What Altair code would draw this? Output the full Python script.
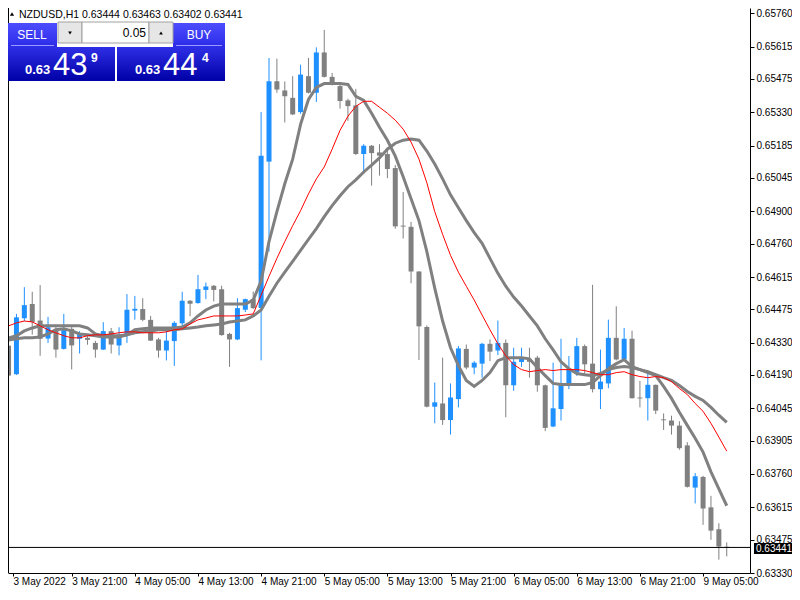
import altair as alt
import pandas as pd

symbol = "NZDUSD,H1"
current_price = 0.63441
bid_price = 0.63439
ask_price = 0.63444
lot_size = "0.05"

opens = [0.64317, 0.64193, 0.64436, 0.64498, 0.64426, 0.64348, 0.64390, 0.64303, 0.64390, 0.64347,
         0.64351, 0.64329, 0.64300, 0.64380, 0.64318, 0.64361, 0.64469, 0.64476, 0.64429, 0.64344,
         0.64296, 0.64337, 0.64414, 0.64512, 0.64502, 0.64559, 0.64577, 0.64562, 0.64368, 0.64344,
         0.64473, 0.64520, 0.64480, 0.65116, 0.65465, 0.65425, 0.65393, 0.65331, 0.65487, 0.65415,
         0.65590, 0.65484, 0.65444, 0.65382, 0.65360, 0.65149, 0.65185, 0.65156, 0.65149, 0.65088,
         0.64838, 0.64833, 0.64639, 0.64398, 0.64052, 0.64066, 0.63994, 0.64085, 0.64303, 0.64222,
         0.64239, 0.64325, 0.64296, 0.64329, 0.64145, 0.64246, 0.64256, 0.64265, 0.64145, 0.63966,
         0.64042, 0.64147, 0.64200, 0.64315, 0.64239, 0.64128, 0.64153, 0.64351, 0.64257, 0.64347,
         0.64092, 0.64089, 0.64147, 0.63997, 0.63992, 0.63970, 0.63884, 0.63701, 0.63747, 0.63615,
         0.63520, 0.63444]
highs = [0.64329, 0.64455, 0.64571, 0.64551, 0.64580, 0.64442, 0.64408, 0.64455, 0.64401, 0.64380,
         0.64368, 0.64338, 0.64419, 0.64394, 0.64397, 0.64541, 0.64533, 0.64523, 0.64446, 0.64351,
         0.64394, 0.64423, 0.64551, 0.64515, 0.64624, 0.64591, 0.64580, 0.64577, 0.64373, 0.64523,
         0.64521, 0.64552, 0.65331, 0.65566, 0.65563, 0.65464, 0.65487, 0.65537, 0.65566, 0.65612,
         0.65688, 0.65501, 0.65451, 0.65389, 0.65432, 0.65192, 0.65188, 0.65192, 0.65178, 0.65101,
         0.64984, 0.64854, 0.64640, 0.64405, 0.64157, 0.64265, 0.64153, 0.64315, 0.64322, 0.64250,
         0.64329, 0.64344, 0.64426, 0.64344, 0.64308, 0.64308, 0.64308, 0.64273, 0.64148, 0.64243,
         0.64347, 0.64272, 0.64351, 0.64322, 0.64581, 0.64300, 0.64430, 0.64488, 0.64394, 0.64382,
         0.64164, 0.64207, 0.64148, 0.64023, 0.64013, 0.63989, 0.63898, 0.63764, 0.63752, 0.63665,
         0.63546, 0.63463]
lows = [0.64114, 0.64190, 0.64424, 0.64365, 0.64273, 0.64329, 0.64265, 0.64300, 0.64214, 0.64283,
        0.64321, 0.64265, 0.64298, 0.64283, 0.64275, 0.64329, 0.64430, 0.64423, 0.64337, 0.64265,
        0.64253, 0.64229, 0.64401, 0.64445, 0.64499, 0.64519, 0.64509, 0.64360, 0.64225, 0.64341,
        0.64463, 0.64476, 0.64253, 0.64725, 0.65415, 0.65286, 0.65318, 0.65324, 0.65412, 0.65375,
        0.65481, 0.65447, 0.65346, 0.65293, 0.65145, 0.65063, 0.65012, 0.65055, 0.65044, 0.64825,
        0.64782, 0.64588, 0.64255, 0.64049, 0.63980, 0.63973, 0.63931, 0.64049, 0.64214, 0.64193,
        0.64178, 0.64250, 0.64276, 0.64006, 0.64121, 0.64225, 0.64178, 0.64117, 0.63946, 0.63963,
        0.63992, 0.64128, 0.64186, 0.64193, 0.64114, 0.64042, 0.64132, 0.64253, 0.64250, 0.64087,
        0.64049, 0.63992, 0.64020, 0.63951, 0.63931, 0.63865, 0.63701, 0.63632, 0.63539, 0.63474,
        0.63388, 0.63402]
closes = [0.64187, 0.64440, 0.64493, 0.64420, 0.64347, 0.64397, 0.64300, 0.64390, 0.64318, 0.64368,
          0.64342, 0.64300, 0.64380, 0.64322, 0.64365, 0.64473, 0.64477, 0.64429, 0.64339, 0.64296,
          0.64339, 0.64416, 0.64512, 0.64499, 0.64562, 0.64574, 0.64559, 0.64363, 0.64344, 0.64480,
          0.64519, 0.64480, 0.65142, 0.65465, 0.65429, 0.65400, 0.65321, 0.65494, 0.65415, 0.65590,
          0.65484, 0.65451, 0.65379, 0.65357, 0.65149, 0.65185, 0.65153, 0.65142, 0.65084, 0.64835,
          0.64834, 0.64639, 0.64401, 0.64052, 0.64071, 0.63994, 0.64092, 0.64305, 0.64222, 0.64243,
          0.64325, 0.64291, 0.64329, 0.64145, 0.64247, 0.64268, 0.64247, 0.64145, 0.63960, 0.64045,
          0.64153, 0.64214, 0.64315, 0.64236, 0.64128, 0.64161, 0.64351, 0.64257, 0.64347, 0.64089,
          0.64088, 0.64147, 0.64035, 0.63993, 0.63970, 0.63872, 0.63704, 0.63750, 0.63610, 0.63514,
          0.63445, 0.63441]

ma_fast = [0.64351, 0.64360, 0.64381, 0.64394, 0.64403, 0.64403, 0.64403, 0.64403, 0.64403, 0.64403,
           0.64394, 0.64368, 0.64360, 0.64360, 0.64360, 0.64364, 0.64386, 0.64390, 0.64394, 0.64394,
           0.64394, 0.64394, 0.64398, 0.64416, 0.64446, 0.64472, 0.64489, 0.64498, 0.64498, 0.64498,
           0.64498, 0.64515, 0.64597, 0.64769, 0.64899, 0.65020, 0.65127, 0.65278, 0.65386, 0.65438,
           0.65455, 0.65455, 0.65455, 0.65451, 0.65399, 0.65382, 0.65326, 0.65265, 0.65209, 0.65140,
           0.65050, 0.64955, 0.64860, 0.64725, 0.64567, 0.64424, 0.64308, 0.64230, 0.64166, 0.64140,
           0.64166, 0.64200, 0.64252, 0.64265, 0.64265, 0.64265, 0.64260, 0.64222, 0.64187, 0.64153,
           0.64148, 0.64148, 0.64148, 0.64148, 0.64157, 0.64187, 0.64217, 0.64239, 0.64256, 0.64226,
           0.64213, 0.64200, 0.64187, 0.64140, 0.64088, 0.64028, 0.63971, 0.63915, 0.63855, 0.63769,
           0.63695, 0.63622]
ma_mid = [0.64403, 0.64416, 0.64424, 0.64420, 0.64403, 0.64386, 0.64373, 0.64360, 0.64351, 0.64351,
          0.64360, 0.64364, 0.64364, 0.64368, 0.64373, 0.64377, 0.64377, 0.64373, 0.64373, 0.64373,
          0.64377, 0.64386, 0.64390, 0.64411, 0.64429, 0.64437, 0.64446, 0.64446, 0.64446, 0.64446,
          0.64450, 0.64455, 0.64536, 0.64618, 0.64696, 0.64769, 0.64838, 0.64903, 0.64976, 0.65041,
          0.65093, 0.65170, 0.65252, 0.65313, 0.65356, 0.65378, 0.65378, 0.65352, 0.65326, 0.65296,
          0.65257, 0.65201, 0.65127, 0.65024, 0.64899, 0.64800, 0.64709, 0.64636, 0.64575, 0.64515,
          0.64450, 0.64386, 0.64325, 0.64273, 0.64235, 0.64213, 0.64204, 0.64209, 0.64213, 0.64209,
          0.64213, 0.64213, 0.64213, 0.64209, 0.64200, 0.64191, 0.64191, 0.64200, 0.64204, 0.64191,
          0.64183, 0.64178, 0.64183, 0.64178, 0.64161, 0.64131, 0.64105, 0.64066, 0.64032, 0.63980,
          0.63920, 0.63859]
ma_slow = [0.64342, 0.64347, 0.64351, 0.64351, 0.64355, 0.64368, 0.64386, 0.64390, 0.64381, 0.64368,
           0.64364, 0.64360, 0.64355, 0.64355, 0.64355, 0.64364, 0.64373, 0.64377, 0.64381, 0.64386,
           0.64386, 0.64386, 0.64390, 0.64394, 0.64398, 0.64403, 0.64407, 0.64411, 0.64420, 0.64424,
           0.64429, 0.64446, 0.64472, 0.64532, 0.64588, 0.64636, 0.64683, 0.64731, 0.64778, 0.64825,
           0.64877, 0.64925, 0.64968, 0.65007, 0.65037, 0.65071, 0.65101, 0.65132, 0.65170, 0.65196,
           0.65209, 0.65214, 0.65209, 0.65162, 0.65106, 0.65041, 0.64972, 0.64916, 0.64860, 0.64808,
           0.64761, 0.64696, 0.64631, 0.64575, 0.64528, 0.64489, 0.64446, 0.64403, 0.64347, 0.64299,
           0.64247, 0.64217, 0.64196, 0.64191, 0.64187, 0.64196, 0.64213, 0.64222, 0.64226, 0.64222,
           0.64213, 0.64204, 0.64191, 0.64178, 0.64166, 0.64144, 0.64118, 0.64097, 0.64079, 0.64049,
           0.64015, 0.63984]

time_labels = ["3 May 2022", "3 May 21:00", "4 May 05:00", "4 May 13:00", "4 May 21:00",
               "5 May 05:00", "5 May 13:00", "5 May 21:00", "6 May 05:00", "6 May 13:00",
               "6 May 21:00", "9 May 05:00"]
time_label_bars = [0.5625, 8, 16, 24, 32, 40, 48, 56, 64, 72, 80, 88]
price_ticks = [0.65760, 0.65615, 0.65475, 0.65330, 0.65185, 0.65045, 0.64900, 0.64760, 0.64615,
               0.64475, 0.64330, 0.64190, 0.64045, 0.63905, 0.63760, 0.63615, 0.63475, 0.63330]

n = len(opens)
df = pd.DataFrame({"bar": list(range(n)), "open": opens, "high": highs, "low": lows,
                   "close": closes, "fast": ma_fast, "mid": ma_mid, "slow": ma_slow})

W, H = 742, 565
BLUE = "#1E90FF"
GRAY = "#808080"
FONT = "Liberation Sans"

xs = alt.Scale(domain=[0.5625, 0.5625 + W / 8], nice=False, zero=False)
ys = alt.Scale(domain=[0.63330, 0.657830], nice=False, zero=False)

labels_js = "[" + ",".join("'" + t + "'" for t in time_labels) + "]"
x_axis = alt.Axis(values=time_label_bars, labelExpr=labels_js + "[round(datum.value/8)]",
                  orient="bottom", tickSize=3, labelAlign="left", labelPadding=0,
                  labelFont=FONT, labelFontSize=10, labelColor="black", domainColor="black",
                  tickColor="black", grid=False, title=None, labelOverlap=False, labelFlush=False)
y_axis = alt.Axis(values=price_ticks, format=".5f", orient="right", tickSize=4, labelPadding=2,
                  labelFont=FONT, labelFontSize=10, labelColor="black", domainColor="black",
                  tickColor="black", grid=False, title=None, labelOverlap=False, labelFlush=False)

X = alt.X("bar:Q", scale=xs, axis=x_axis)
candle_color = alt.condition("datum.close > datum.open", alt.value(BLUE), alt.value(GRAY))

wicks = alt.Chart(df).mark_rule(clip=True, strokeWidth=1).encode(
    x=X, y=alt.Y("low:Q", scale=ys, axis=y_axis), y2="high:Q", color=candle_color)
bodies = alt.Chart(df).mark_bar(size=5, clip=True).encode(
    x=X, y=alt.Y("open:Q", scale=ys, axis=y_axis), y2="close:Q", color=candle_color)

def ma_line(col, color, width):
    return alt.Chart(df).mark_line(color=color, strokeWidth=width, clip=True).encode(
        x=X, y=alt.Y(col + ":Q", scale=ys, axis=y_axis))

slow_line = ma_line("slow", GRAY, 3)
fast_line = ma_line("fast", GRAY, 3)
mid_line = ma_line("mid", "#FF0000", 1)

one = pd.DataFrame({"k": [0]})
price_rule = alt.Chart(one).mark_rule(color="black", strokeWidth=1).encode(
    y=alt.Y(datum=current_price, scale=ys, axis=y_axis))

def rect(x1, x2, y1, y2, color, stroke=None):
    kw = {"color": color}
    if stroke:
        kw["stroke"] = stroke
        kw["strokeWidth"] = 1
    return alt.Chart(one).mark_rect(**kw).encode(
        x=alt.value(x1), x2=alt.value(x2), y=alt.value(y1), y2=alt.value(y2))

def text(x, y, s, size=10, color="black", align="left", baseline="middle", font=FONT, weight="normal"):
    return alt.Chart(one).mark_text(align=align, baseline=baseline, font=font, fontSize=size,
                                    color=color, fontWeight=weight).encode(
        x=alt.value(x), y=alt.value(y), text=alt.value(s))

def grad(c1, c2):
    return alt.Gradient(gradient="linear", stops=[alt.GradientStop(color=c1, offset=0),
                                                  alt.GradientStop(color=c2, offset=1)],
                        x1=0, x2=0, y1=0, y2=1)

left_border = alt.Chart(one).mark_rule(color="black", strokeWidth=1).encode(
    x=alt.value(0.5), y=alt.value(0), y2=alt.value(H))

header = text(11, 1.5, f"{symbol}  {opens[-1]:.5f} {highs[-1]:.5f} {lows[-1]:.5f} {closes[-1]:.5f}",
              size=10.5, baseline="top")
tri = alt.Chart(one).mark_point(shape="triangle-up", filled=True, color="black", size=18, opacity=1).encode(
    x=alt.value(4), y=alt.value(6))

prefix = f"{bid_price:.5f}"[:4]
bid_big = f"{bid_price:.5f}"[4:6]
bid_small = f"{bid_price:.5f}"[6]
ask_big = f"{ask_price:.5f}"[4:6]
ask_small = f"{ask_price:.5f}"[6]

panel = [
    rect(0, 49, 15, 39, grad("#4d4dff", "#2b2be8")),
    rect(165, 217, 15, 39, grad("#4d4dff", "#2b2be8")),
    rect(0, 107, 39, 73, grad("#2e2ee6", "#0000a6")),
    rect(109, 217, 39, 73, grad("#2e2ee6", "#0000a6")),
    rect(3, 46, 37, 38, "#9a9aff"),
    rect(168, 214, 37, 38, "#9a9aff"),
    rect(50, 74, 14, 35, "#e6e6e6", "#a0a0a0"),
    rect(74, 141, 14, 35, "#ffffff", "#a0a0a0"),
    rect(141, 165, 14, 35, "#e6e6e6", "#a0a0a0"),
    alt.Chart(one).mark_point(shape="triangle-down", filled=True, color="black", size=14, opacity=1).encode(
        x=alt.value(62), y=alt.value(25)),
    alt.Chart(one).mark_point(shape="triangle-up", filled=True, color="black", size=14, opacity=1).encode(
        x=alt.value(153), y=alt.value(25)),
    text(138, 25, lot_size, size=12, align="right"),
    text(24, 27, "SELL", size=12, color="white", align="center"),
    text(191, 27, "BUY", size=12, color="white", align="center"),
    text(17, 66, prefix, size=13, color="white", baseline="alphabetic", weight="bold"),
    text(45, 67, bid_big, size=31, color="white", baseline="alphabetic"),
    text(83, 54, bid_small, size=12, color="white", baseline="alphabetic", weight="bold"),
    text(127, 66, prefix, size=13, color="white", baseline="alphabetic", weight="bold"),
    text(155, 67, ask_big, size=31, color="white", baseline="alphabetic"),
    text(194, 54, ask_small, size=12, color="white", baseline="alphabetic", weight="bold"),
]

price_box = rect(746, 784, 535, 546, "black")
price_txt = text(748, 540.5, f"{current_price:.5f}", size=10, color="white")

layers = [wicks, bodies, slow_line, fast_line, mid_line, price_rule, left_border, header, tri] + panel + [price_box, price_txt]

chart = alt.layer(*layers).properties(
    width=W, height=H,
    padding={"left": 0, "top": 0, "right": 42, "bottom": 14},
    autosize=alt.AutoSizeParams(type="none"),
    background="white"
).configure_view(stroke=None)

chart.save("out.html", embed_options={"renderer": "svg", "actions": False})
